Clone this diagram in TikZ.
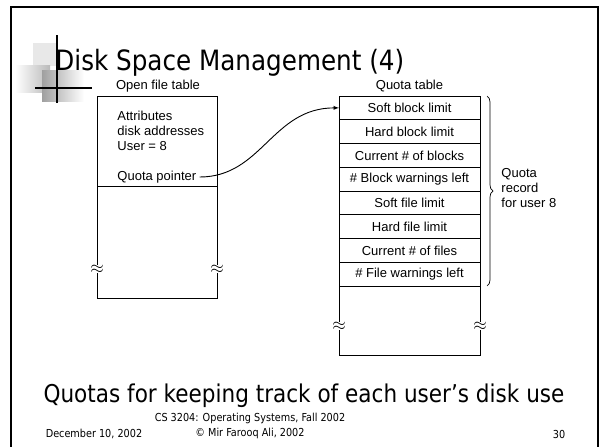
\documentclass[tikz,border=0pt]{standalone}
\usepackage{fontspec}
\setmainfont{Liberation Sans}
\newfontfamily\slidefont[FakeStretch=0.88]{DejaVu Sans}
\usetikzlibrary{positioning,decorations.pathreplacing}
\tikzstyle{qrow}=[draw,rectangle,minimum width=141pt,minimum height=23.75pt,inner sep=0pt,outer sep=0pt,font=\fontsize{13}{15}\selectfont]
\tikzstyle{figtext}=[inner sep=0pt,font=\fontsize{13}{15}\selectfont]
\tikzstyle{brk}=[fill=white,inner sep=0pt,font=\fontsize{19}{19}\selectfont]

\begin{document}
\begin{tikzpicture}[x=1pt,y=-1pt,line width=0.9pt]
\useasboundingbox (0,0) rectangle (600,447);
% slide frame and logo
\draw[line width=2.4pt] (11,447) -- (11,7) -- (598,7) -- (598,447);
\fill[gray!18] (33,43) rectangle (57,66);
\shade[left color=white,right color=gray!55] (15,65) rectangle (50,92);
\shade[left color=gray!75,right color=white] (42,70) rectangle (84,101);
\draw[line width=1.2pt] (57,35) -- (57,103);
\draw[line width=1.2pt] (35,88) -- (92,88);
\node[anchor=base west,inner sep=0pt,font=\slidefont\fontsize{28}{30}\selectfont] (title) at (55,70) {Disk Space Management (4)};

% open file table
\node[figtext] (ofthead) at (158,86) {Open file table};
\node[draw,minimum width=120pt,minimum height=90pt,anchor=north west,outer sep=0pt] (ofttop) at (97,96) {};
\node[draw,minimum width=120pt,minimum height=112pt,below=0pt of ofttop,outer sep=0pt] (oftbot) {};
\node[figtext,align=left,anchor=north west] (attr) at (117,111) {Attributes\\disk addresses\\User = 8};
\node[figtext,anchor=west] (qp) at (117,177) {Quota pointer};
\node[brk] (b1) at (97,269) {$\approx$};
\node[brk] (b2) at (217,269) {$\approx$};

% quota table
\node[figtext] (qthead) at (409.5,86) {Quota table};
\node[qrow,anchor=north west] (r1) at (339,96) {Soft block limit};
\node[qrow,below=0pt of r1] (r2) {Hard block limit};
\node[qrow,below=0pt of r2] (r3) {Current \# of blocks};
\node[qrow,below=0pt of r3] (r4) {\# Block warnings left};
\node[qrow,below=0pt of r4] (r5) {Soft file limit};
\node[qrow,below=0pt of r5] (r6) {Hard file limit};
\node[qrow,below=0pt of r6] (r7) {Current \# of files};
\node[qrow,below=0pt of r7] (r8) {\# File warnings left};
\draw (r8.south west) -- (339,355) -- (480,355) -- (r8.south east);
\node[brk] (b3) at (339,326) {$\approx$};
\node[brk] (b4) at (480,326) {$\approx$};
\draw[line width=0.7pt,decorate,decoration={brace,amplitude=6pt}] (487,96) -- (487,286);
\node[figtext,align=left,anchor=west] (rec) at (501,188) {Quota\\record\\for user 8};

\draw[-latex] ([xshift=3pt]qp.east) .. controls (262,177) and (272,108) .. (r1.west);

% captions
\node[font=\slidefont\fontsize{24.5}{26}\selectfont,inner sep=0pt] (cap) at (304,396) {Quotas for keeping track of each user’s disk use};
\node[font=\slidefont\fontsize{11}{15}\selectfont,align=center,inner sep=0pt] (foot) at (250,426) {CS 3204: Operating Systems, Fall 2002\\© Mir Farooq Ali, 2002};
\node[font=\slidefont\fontsize{11}{13}\selectfont,inner sep=0pt] (date) at (94,434) {December 10, 2002};
\node[font=\slidefont\fontsize{11}{13}\selectfont,inner sep=0pt] (page) at (559,434) {30};
\end{tikzpicture}
\end{document}
